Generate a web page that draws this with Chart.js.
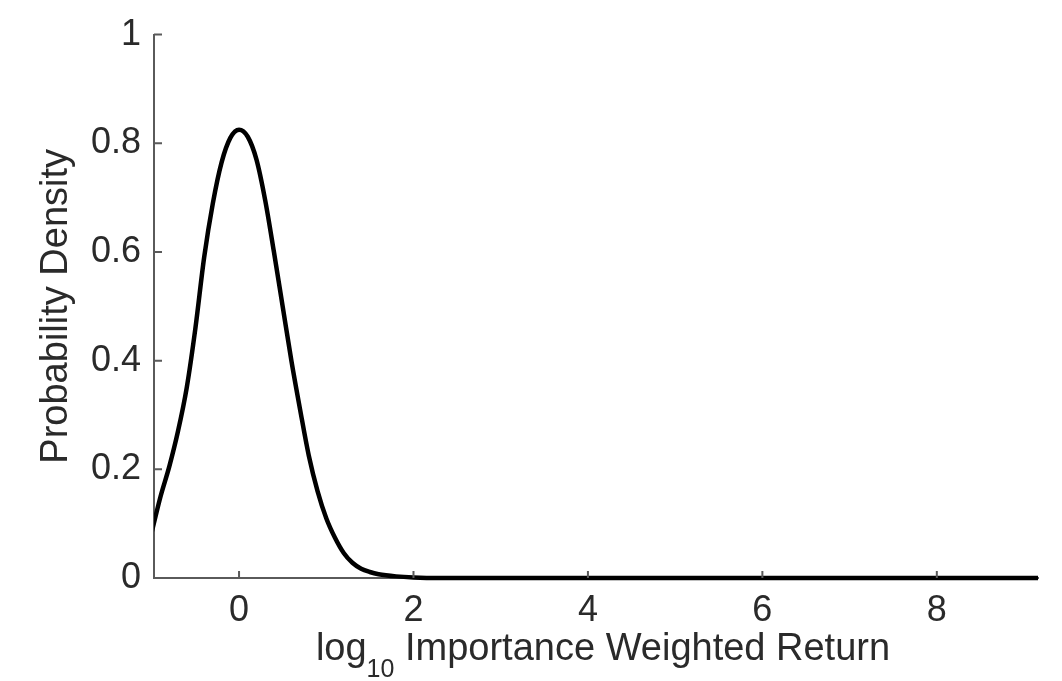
<!DOCTYPE html>
<html>
<head>
<meta charset="utf-8">
<script src="https://cdn.jsdelivr.net/npm/chart.js@4.4.1/dist/chart.umd.min.js"></script>
<style>
  html, body { margin: 0; padding: 0; background: #fff; }
  #wrap { width: 1062px; height: 681px; position: relative; }
</style>
</head>
<body>
<div id="wrap"><canvas id="myChart"></canvas></div>
<script>
// density curve
var logReturn = [-1.0, -0.9, -0.8, -0.7, -0.6, -0.5, -0.4, -0.3, -0.2, -0.1, 0, 0.1, 0.2, 0.3, 0.4, 0.5, 0.6, 0.7, 0.8, 0.9, 1.0, 1.1, 1.2, 1.3, 1.4, 1.5, 1.6, 1.8, 2.0, 2.3, 9.2];
var density = [0.085, 0.15, 0.205, 0.27, 0.35, 0.46, 0.59, 0.69, 0.765, 0.81, 0.825, 0.812, 0.77, 0.695, 0.6, 0.5, 0.4, 0.31, 0.225, 0.16, 0.11, 0.074, 0.046, 0.028, 0.017, 0.011, 0.007, 0.003, 0.001, 0, 0];
var xTicks = [0, 2, 4, 6, 8];
var yTicks = [0, 0.2, 0.4, 0.6, 0.8, 1];

var FONT = '"Liberation Sans", Arial, Helvetica, sans-serif';
var axisColor = '#5a5a5a';
var textColor = '#2a2a2a';

var points = logReturn.map(function(x, i){ return {x: x, y: density[i]}; });

// inward ticks + axis titles (log with subscript 10)
var extras = {
  id: 'extras',
  afterDraw: function(chart){
    var c = chart.ctx, a = chart.chartArea;
    var xs = chart.scales.x, ys = chart.scales.y;
    c.save();
    c.strokeStyle = axisColor;
    c.lineWidth = 2;
    c.beginPath();
    xTicks.forEach(function(v){
      var px = xs.getPixelForValue(v);
      c.moveTo(px, a.bottom); c.lineTo(px, a.bottom - 7);
    });
    yTicks.forEach(function(v){
      var py = ys.getPixelForValue(v);
      c.moveTo(a.left, py); c.lineTo(a.left + 8, py);
    });
    c.stroke();

    c.fillStyle = textColor;
    // x title
    var big = '38px ' + FONT, small = '25px ' + FONT;
    c.font = big; var w1 = c.measureText('log').width;
    var w3 = c.measureText(' Importance Weighted Return').width;
    c.font = small; var w2 = c.measureText('10').width;
    var x0 = 603 - (w1 + w2 + w3) / 2, base = 660;
    c.textBaseline = 'alphabetic'; c.textAlign = 'left';
    c.font = big; c.fillText('log', x0, base);
    c.font = small; c.fillText('10', x0 + w1, base + 17);
    c.font = big; c.fillText(' Importance Weighted Return', x0 + w1 + w2, base);
    // y title
    c.translate(57, (a.top + a.bottom) / 2);
    c.rotate(-Math.PI / 2);
    c.textAlign = 'center'; c.textBaseline = 'middle';
    c.font = '38px ' + FONT;
    c.fillText('Probability Density', 0, 0);
    c.restore();
  }
};

var ctx = document.getElementById('myChart');
new Chart(ctx, {
  type: 'line',
  data: {
    datasets: [{
      data: points,
      borderColor: '#000',
      borderWidth: 4.5,
      pointRadius: 0,
      fill: false,
      cubicInterpolationMode: 'monotone',
      clip: { left: 0, top: 5, right: 0, bottom: 5 }
    }]
  },
  options: {
    responsive: true,
    maintainAspectRatio: false,
    animation: false,
    layout: { padding: { top: 32, right: 24, left: 0, bottom: 0 } },
    plugins: { legend: { display: false }, tooltip: { enabled: false } },
    scales: {
      x: {
        type: 'linear',
        min: -0.975,
        max: 9.16,
        afterFit: function(s){ s.height = 103; },
        afterBuildTicks: function(s){ s.ticks = xTicks.map(function(v){ return {value: v}; }); },
        grid: { display: true, drawOnChartArea: false, drawTicks: false },
        border: { display: true, color: axisColor, width: 2 },
        ticks: { color: textColor, font: { family: FONT, size: 36 }, padding: 11, maxRotation: 0,
          callback: function(v){ return String(v); } }
      },
      y: {
        min: 0,
        max: 1,
        afterFit: function(s){ s.width = 154; },
        afterBuildTicks: function(s){ s.ticks = yTicks.map(function(v){ return {value: v}; }); },
        grid: { display: true, drawOnChartArea: false, drawTicks: false },
        border: { display: true, color: axisColor, width: 2 },
        ticks: { color: textColor, font: { family: FONT, size: 36 }, padding: 13,
          callback: function(v){ return String(v); } }
      }
    }
  },
  plugins: [extras]
});
</script>
</body>
</html>
